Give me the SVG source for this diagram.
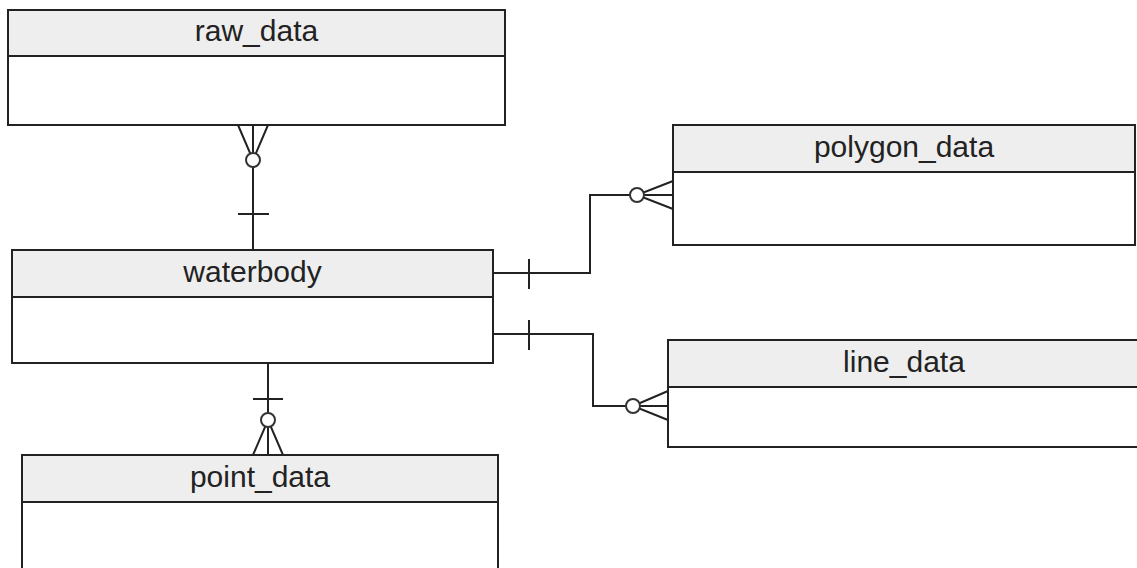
<svg xmlns="http://www.w3.org/2000/svg" width="1137" height="568" viewBox="0 0 1137 568">
  <style>
    .box { fill: #ffffff; stroke: #222222; stroke-width: 2; }
    .head { fill: #eeeeee; stroke: #222222; stroke-width: 2; }
    .title { font-family: "Liberation Sans", Arial, sans-serif; font-size: 30px; fill: #222222; text-anchor: middle; }
    .conn { fill: none; stroke: #222222; stroke-width: 2; }
    .ring { fill: #ffffff; stroke: #333333; stroke-width: 2; }
  </style>
  <rect x="0" y="0" width="1137" height="568" fill="#ffffff"/>

  <!-- relationships (crow's foot notation) -->
  <g id="connectors">
    <!-- raw_data (many, optional) to waterbody (one) -->
    <g id="rel-raw-waterbody">
      <path class="conn" d="M253,125 V250"/>
      <path class="conn" d="M238,125 L253,160 L268,125"/>
      <circle class="ring" cx="253" cy="160" r="7"/>
      <path class="conn" d="M238,214 H269"/>
    </g>
    <!-- waterbody (one) to polygon_data (many, optional) -->
    <g id="rel-waterbody-polygon">
      <path class="conn" d="M493,273 H590 V195 H673"/>
      <path class="conn" d="M529,259 V289"/>
      <path class="conn" d="M673,181 L637,195 L673,209"/>
      <circle class="ring" cx="637" cy="195" r="7"/>
    </g>
    <!-- waterbody (one) to line_data (many, optional) -->
    <g id="rel-waterbody-line">
      <path class="conn" d="M493,334 H593 V406 H668"/>
      <path class="conn" d="M529,320 V350"/>
      <path class="conn" d="M668,391 L633,406 L668,420"/>
      <circle class="ring" cx="633" cy="406" r="7"/>
    </g>
    <!-- waterbody (one) to point_data (many, optional) -->
    <g id="rel-waterbody-point">
      <path class="conn" d="M268,363 V455"/>
      <path class="conn" d="M253,399 H283"/>
      <path class="conn" d="M253,455 L268,420 L283,455"/>
      <circle class="ring" cx="268" cy="420" r="7"/>
    </g>
  </g>

  <g id="raw_data">
    <rect class="box" x="8" y="10" width="497" height="115"/>
    <rect class="head" x="8" y="10" width="497" height="46"/>
    <text class="title" x="256.5" y="41">raw_data</text>
  </g>

  <g id="polygon_data">
    <rect class="box" x="673" y="125" width="462" height="120"/>
    <rect class="head" x="673" y="125" width="462" height="47"/>
    <text class="title" x="904" y="156.5">polygon_data</text>
  </g>

  <g id="waterbody">
    <rect class="box" x="12" y="250" width="481" height="113"/>
    <rect class="head" x="12" y="250" width="481" height="47"/>
    <text class="title" x="252.5" y="281.5">waterbody</text>
  </g>

  <g id="line_data">
    <rect class="box" x="668" y="340" width="480" height="107"/>
    <rect class="head" x="668" y="340" width="480" height="47"/>
    <text class="title" x="904" y="371.5">line_data</text>
  </g>

  <g id="point_data">
    <rect class="box" x="22" y="455" width="476" height="125"/>
    <rect class="head" x="22" y="455" width="476" height="47"/>
    <text class="title" x="260" y="486.5">point_data</text>
  </g>
</svg>
